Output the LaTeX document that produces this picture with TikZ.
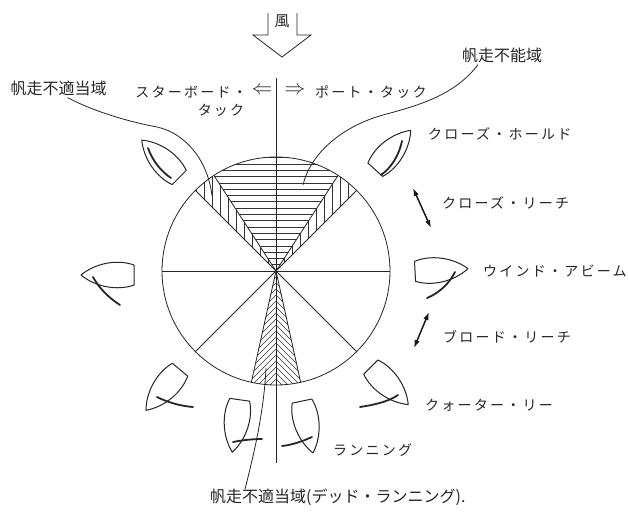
\documentclass[tikz,border=0pt]{standalone}
\usepackage{fontspec}
\newfontfamily\jpgothic{Noto Sans CJK JP}
\newfontfamily\jpkana[LetterSpace=16]{Noto Sans CJK JP}
\usetikzlibrary{arrows.meta}
\begin{document}
\begin{tikzpicture}[x=1pt,y=-1pt,
  ink/.style={draw=black!85, line width=0.8pt},
  hatch/.style={draw=black!80, line width=0.5pt},
  hull/.style={draw=black!85, line width=1pt, line join=round},
  sail/.style={draw=black!85, line width=1.8pt, line cap=round},
  leader/.style={draw=black!85, line width=0.8pt},
  pointarrow/.style={draw=black!90, line width=1.5pt,
    {Latex[length=8pt,width=5.5pt]}-{Latex[length=8pt,width=5.5pt]}},
  kana/.style={inner sep=0pt, text=black!85, font=\jpkana\fontsize{14}{16}\selectfont},
  kanji/.style={inner sep=0pt, text=black!85, font=\jpgothic\fontsize{16}{18}\selectfont},
  tackarrow/.style={inner sep=0pt, text=black!85, font=\fontsize{20}{24}\selectfont},
  boat/.pic={\draw[hull] (-26.5,-10) .. controls (-10,-16) and (12,-12) .. (26.5,0)
     .. controls (12,12) and (-10,16) .. (-26.5,10) -- cycle;}
]
\useasboundingbox (0,0) rectangle (628,515);
\fill[white] (0,0) rectangle (628,515);

\def\ccx{276}
\def\ccy{271}
\def\rad{114}
\coordinate (C) at (\ccx,\ccy);

% wind arrow
\draw[ink] (268,13) -- (268,35) -- (253,35) -- (282,57) -- (311,35) -- (297,35) -- (297,13);
\node[kanji, font=\jpgothic\fontsize{15}{17}\selectfont] (wind) at (282,21) {風};

% no-go sector: horizontal hatching
\begin{scope}
  \clip (C) -- ++(237:\rad) arc[start angle=237, end angle=303, radius=\rad] -- cycle;
  \foreach \k in {1,...,19} \draw[hatch] (140,{\ccy-6.3*\k}) -- (410,{\ccy-6.3*\k});
\end{scope}
% close-hauled margins: vertical hatching
\begin{scope}
  \clip (C) -- ++(225:\rad) arc[start angle=225, end angle=237, radius=\rad] -- cycle;
  \foreach \k in {1,...,12} \draw[hatch] ({\ccx-8*\k},140) -- ({\ccx-8*\k},\ccy);
\end{scope}
\begin{scope}
  \clip (C) -- ++(303:\rad) arc[start angle=303, end angle=315, radius=\rad] -- cycle;
  \foreach \k in {1,...,12} \draw[hatch] ({\ccx+8*\k},140) -- ({\ccx+8*\k},\ccy);
\end{scope}
% dead running sector: chevron hatching
\begin{scope}
  \clip (C) -- ++(77.5:\rad) arc[start angle=77.5, end angle=102.5, radius=\rad] -- cycle;
  \foreach \k in {0,...,20} {
    \draw[hatch] (\ccx,{\ccy+6*\k}) -- ++(-40,40);
    \draw[hatch] (\ccx,{\ccy+6*\k}) -- ++(40,40);
  }
\end{scope}

% circle and spokes
\draw[ink] (C) circle[radius=\rad];
\foreach \a in {0,45,135,180,225,315,237,303,77.5,102.5}
  \draw[ink] (C) -- ++(\a:\rad);
\coordinate (vtop) at (\ccx,78);
\coordinate (vbot) at (\ccx,463);
\draw[ink] (vtop) -- (vbot);

% boats
\pic[rotate=135] at (160.5,158.8) {boat};
\pic[rotate=48] at (393,150) {boat};
\pic[rotate=3] at (441.5,270) {boat};
\pic[rotate=180] at (107.5,275) {boat};
\pic[rotate=-45] at (389.5,385.8) {boat};
\pic[rotate=-130] at (163,390) {boat};
\pic[rotate=-98] at (236,426) {boat};
\pic[rotate=-78] at (307.5,427) {boat};

% sails
\draw[sail] (148,148) .. controls (153,162) and (162,172) .. (171,178);
\draw[sail] (402,141) .. controls (399,155) and (392,167) .. (381,175);
\draw[sail] (455,272) .. controls (449,284) and (439,293) .. (427,298);
\draw[sail] (93,277) .. controls (99,288) and (109,298) .. (120,305);
\draw[sail] (398,395) .. controls (388,402) and (373,405) .. (360,407);
\draw[sail] (157,397) .. controls (167,402) and (180,406) .. (193,407);
\draw[sail] (233,442) .. controls (243,440) and (253,439) .. (262,439);
\draw[sail] (282,446) .. controls (292,445) and (303,441) .. (312,437);

% tack labels
\node[kana, anchor=east] (starboard) at (247,92) {スターボード・};
\node[kana] (starboard2) at (221,110) {タック};
\node[tackarrow] (larrow) at (262,91) {$\Leftarrow$};
\node[tackarrow] (rarrow) at (295,91) {$\Rightarrow$};
\node[kana, anchor=west] (port) at (315,92) {ポート・タック};

% point-of-sail labels
\node[kana, anchor=west] (closehauled) at (428,134) {クローズ・ホールド};
\node[kana, anchor=west] (closereach) at (442,203) {クローズ・リーチ};
\node[kana, anchor=west] (abeam) at (483,271) {ウインド・アビーム};
\node[kana, anchor=west] (broadreach) at (443,337) {ブロード・リーチ};
\node[kana, anchor=west] (quarter) at (425,405) {クォーター・リー};
\node[kana, anchor=west] (running) at (333,450) {ランニング};

% double arrows between points of sail
\coordinate (crA) at (413,188);
\coordinate (crB) at (431,228);
\draw[pointarrow] (crA) -- (crB);
\coordinate (brA) at (429,312);
\coordinate (brB) at (414,348);
\draw[pointarrow] (brA) -- (brB);

% zone labels with leaders
\node[kanji] (zoneL) at (58.5,88) {帆走不適当域};
\node[kanji] (zoneR) at (502,55) {帆走不能域};
\node[kanji, anchor=north west] (zoneB) at (210,489) {帆走不適当域(デッド・ランニング).};
\coordinate (tipL) at (212,196);
\coordinate (tipR) at (303,185);
\coordinate (tipB) at (266,368);
\draw[leader] ([xshift=9pt,yshift=-2pt]zoneL.south) .. controls (95,112) and (130,122) .. (157,127)
   .. controls (185,133) and (208,160) .. (tipL);
\draw[leader] ([xshift=-24pt,yshift=-2pt]zoneR.south) .. controls (455,95) and (420,105) .. (383,115)
   .. controls (340,127) and (310,155) .. (tipR);
\draw[leader] ([xshift=35pt]zoneB.north west) .. controls (255,450) and (264,410) .. (tipB);
\end{tikzpicture}
\end{document}
